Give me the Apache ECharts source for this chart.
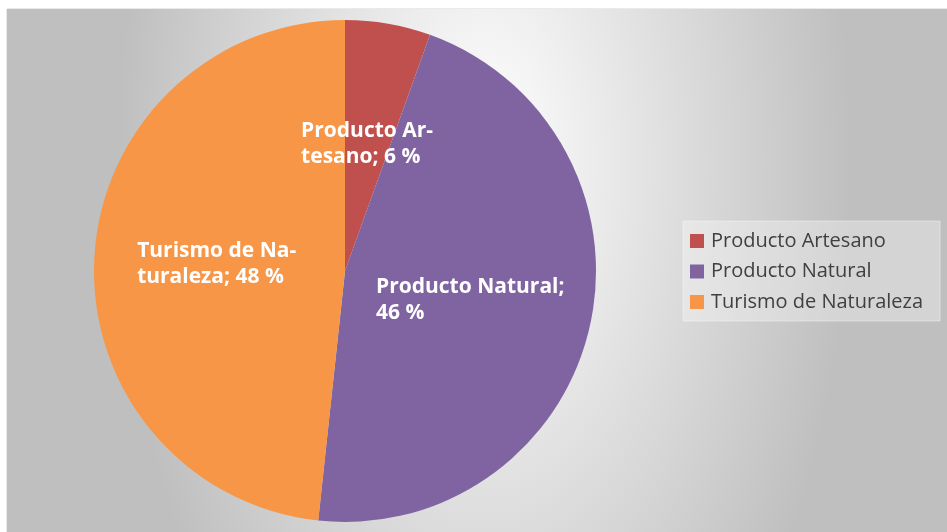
<!DOCTYPE html>
<html>
<head>
<meta charset="utf-8">
<script src="https://cdn.jsdelivr.net/npm/echarts@6/dist/echarts.min.js"></script>
<style>
html,body{margin:0;padding:0;background:#fff;}
#chart{width:947px;height:532px;}
</style>
</head>
<body>
<div id="chart"></div>
<script>
var categories = ['Producto Artesano', 'Producto Natural', 'Turismo de Naturaleza'];
var values = [5.5, 46.2, 48.3];
var labelTexts = ['Producto Ar-\ntesano; {v} %', 'Producto Natural;\n{v} %', 'Turismo de Na-\nturaleza; {v} %'];
var colors = ['#c0504d', '#8064a2', '#f79646'];

var chart = echarts.init(document.getElementById('chart'), null, {renderer: 'canvas'});
var FONT = '"Open Sans", sans-serif';

var option = {
  animation: false,
  backgroundColor: '#ffffff',
  graphic: [
    {
      type: 'rect', z: -10, silent: true,
      shape: {x: 7, y: 9, width: 940, height: 523},
      style: {fill: '#bfbfbf', stroke: '#d4d4d4', lineWidth: 1}
    },
    {
      type: 'rect', z: -9, silent: true,
      x: 485, y: 161, scaleX: 1, scaleY: 1.87,
      shape: {x: -478, y: -81.3, width: 940, height: 279.7},
      style: {
        fill: {
          type: 'radial', x: 0.5085, y: 0.2907, r: 1.312, global: false,
          colorStops: [
            {offset: 0, color: '#ffffff'},
            {offset: 1, color: '#bfbfbf'}
          ]
        }
      }
    }
  ],
  legend: {
    orient: 'vertical',
    left: 683, top: 221,
    padding: [10, 17, 9, 7],
    itemWidth: 14, itemHeight: 14,
    itemGap: 10.5,
    icon: 'rect',
    backgroundColor: 'rgba(255,255,255,0.33)',
    borderColor: 'rgba(255,255,255,0.4)',
    borderWidth: 1,
    textStyle: {fontFamily: FONT, fontSize: 20, color: '#404040', padding: [0, 0, 0, 2]},
    data: categories
  },
  series: [{
    type: 'pie',
    center: [345, 271],
    radius: [0, 251],
    startAngle: 90,
    clockwise: true,
    avoidLabelOverlap: false,
    itemStyle: {borderWidth: 0},
    label: {
      show: true,
      position: 'inside',
      color: '#ffffff',
      fontFamily: FONT,
      fontWeight: 'bold',
      fontSize: 21,
      lineHeight: 26,
      formatter: function (p) {
        return labelTexts[p.dataIndex].replace('{v}', Math.round(p.value));
      }
    },
    labelLayout: function (params) {
      return {
        x: params.labelRect.x,
        y: params.labelRect.y,
        align: 'left',
        verticalAlign: 'top'
      };
    },
    labelLine: {show: false},
    emphasis: {disabled: true},
    data: categories.map(function (c, i) {
      return {name: c, value: values[i], itemStyle: {color: colors[i]}};
    })
  }]
};
chart.setOption(option);
</script>
</body>
</html>
